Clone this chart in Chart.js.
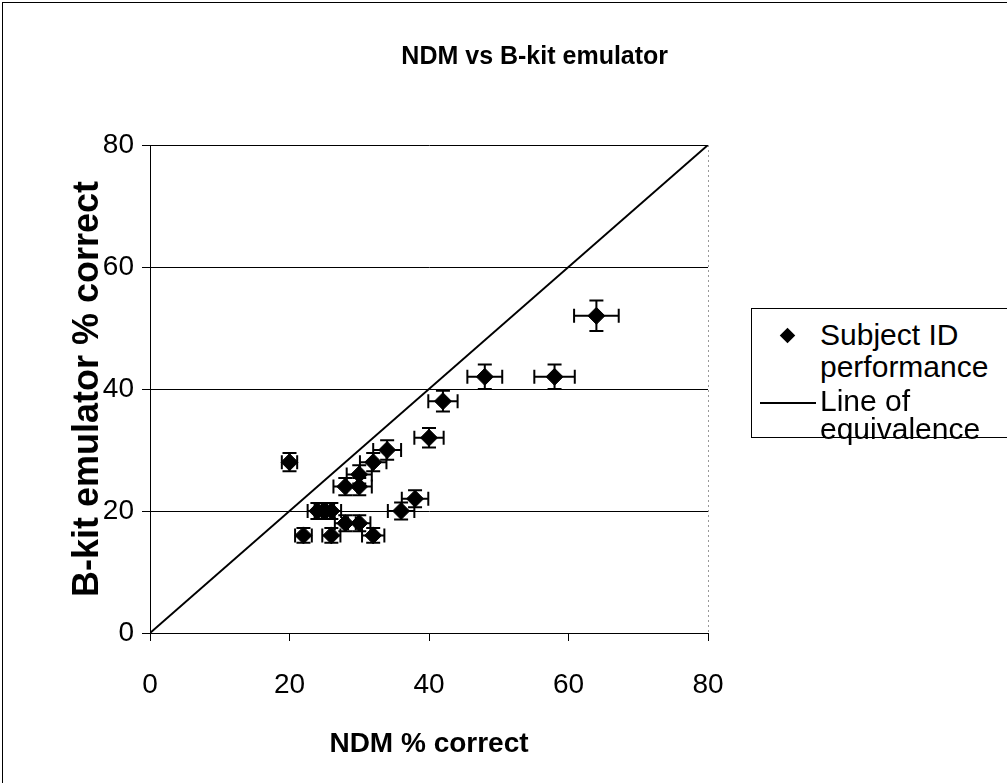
<!DOCTYPE html>
<html>
<head>
<meta charset="utf-8">
<script src="https://cdn.jsdelivr.net/npm/chart.js@4/dist/chart.umd.min.js"></script>
<style>
  html, body { margin: 0; padding: 0; background: #fff; }
  #wrap { position: relative; width: 1007px; height: 783px; }
  #frame { position: absolute; left: 2px; top: 2px; width: 1010px; height: 790px; border: 1px solid #000; box-sizing: border-box; pointer-events: none; }
  #legend { position: absolute; left: 751px; top: 308px; width: 260px; height: 130px; border: 1px solid #000; border-right: none; box-sizing: border-box; background: #fff;
            font-family: "Liberation Sans", Arial, sans-serif; font-size: 30px; line-height: 32px; color: #000; white-space: nowrap; }
  .item { position: absolute; left: 68px; }
  .mk { position: absolute; }
</style>
</head>
<body>
<div id="wrap">
  <canvas id="c" width="1007" height="783"></canvas>
  <div id="frame"></div>
  <div id="legend">
    <div class="mk" style="left:30px;top:21px;width:11px;height:11px;background:#000;transform:rotate(45deg);"></div>
    <div class="item" style="top:10px;">Subject ID<br>performance</div>
    <div class="mk" style="left:8px;top:93px;width:56px;height:2px;background:#000;"></div>
    <div class="item" style="top:78px;line-height:28px;">Line of<br>equivalence</div>
  </div>
</div>
<script>
// ---- data ----
const ndmCorrect   = [64, 48, 58, 42, 40, 34, 32, 30, 30, 28, 20, 38, 36, 24, 25, 26, 28, 30, 22, 26, 32];
const bkitCorrect  = [52, 42, 42, 38, 32, 30, 28, 26, 24, 24, 28, 22, 20, 20, 20, 20, 18, 18, 16, 16, 16];
const ndmError     = [3.2, 2.5, 2.9, 2.1, 2.1, 2.0, 1.9, 1.8, 1.8, 1.7, 1.1, 1.9, 1.9, 1.4, 1.4, 1.4, 1.5, 1.6, 1.2, 1.3, 1.6];
const bkitError    = [2.5, 2.0, 2.0, 1.7, 1.6, 1.6, 1.5, 1.5, 1.4, 1.4, 1.5, 1.4, 1.4, 1.3, 1.3, 1.3, 1.3, 1.3, 1.2, 1.2, 1.2];
const equivalenceX = [0, 80];
const equivalenceY = [0, 80];
const axisTicks    = [0, 20, 40, 60, 80];

const FONT = '"Liberation Sans", Arial, sans-serif';

const subjectPoints = ndmCorrect.map((x, i) => ({x: x, y: bkitCorrect[i]}));
const equivalencePoints = equivalenceX.map((x, i) => ({x: x, y: equivalenceY[i]}));

const errorBarPlugin = {
  id: 'errorBars',
  afterDatasetsDraw(chart) {
    const xs = chart.scales.x, ys = chart.scales.y, ctx = chart.ctx;
    const cap = 7;
    ctx.save();
    ctx.strokeStyle = '#000';
    ctx.lineWidth = 2;
    ndmCorrect.forEach((xv, i) => {
      const yv = bkitCorrect[i];
      const px = xs.getPixelForValue(xv), py = ys.getPixelForValue(yv);
      const x1 = xs.getPixelForValue(xv - ndmError[i]), x2 = xs.getPixelForValue(xv + ndmError[i]);
      const y1 = ys.getPixelForValue(yv - bkitError[i]), y2 = ys.getPixelForValue(yv + bkitError[i]);
      ctx.beginPath();
      ctx.moveTo(x1, py); ctx.lineTo(x2, py);
      ctx.moveTo(x1, py - cap); ctx.lineTo(x1, py + cap);
      ctx.moveTo(x2, py - cap); ctx.lineTo(x2, py + cap);
      ctx.moveTo(px, y1); ctx.lineTo(px, y2);
      ctx.moveTo(px - cap, y1); ctx.lineTo(px + cap, y1);
      ctx.moveTo(px - cap, y2); ctx.lineTo(px + cap, y2);
      ctx.stroke();
    });
    ctx.restore();
  }
};

const titlePlugin = {
  id: 'centredTitle',
  afterDraw(chart) {
    const ctx = chart.ctx;
    ctx.save();
    ctx.font = 'bold 25px ' + FONT;
    ctx.fillStyle = '#000';
    ctx.textAlign = 'center';
    ctx.textBaseline = 'middle';
    ctx.fillText('NDM vs B-kit emulator', chart.width * 0.531, 57);
    ctx.restore();
  }
};

const rightBorderPlugin = {
  id: 'rightBorder',
  beforeDatasetsDraw(chart) {
    const a = chart.chartArea, ctx = chart.ctx;
    ctx.save();
    ctx.strokeStyle = '#999';
    ctx.lineWidth = 1;
    ctx.setLineDash([2, 3]);
    ctx.beginPath();
    ctx.moveTo(a.right + 0.5, a.top);
    ctx.lineTo(a.right + 0.5, a.bottom);
    ctx.stroke();
    ctx.restore();
  }
};

new Chart(document.getElementById('c'), {
  type: 'scatter',
  data: {
    datasets: [
      {
        label: 'Line of equivalence',
        data: equivalencePoints,
        showLine: true,
        borderColor: '#000',
        borderWidth: 2,
        pointRadius: 0,
        fill: false
      },
      {
        label: 'Subject ID performance',
        data: subjectPoints,
        pointStyle: 'rectRot',
        pointRadius: 8.5,
        pointHoverRadius: 8.5,
        backgroundColor: '#000',
        borderColor: '#000',
        borderWidth: 1
      }
    ]
  },
  options: {
    responsive: false,
    animation: false,
    events: [],
    layout: { padding: { left: 4, right: 299, top: 145, bottom: 0 } },
    plugins: {
      legend: { display: false },
      title: { display: false },
      tooltip: { enabled: false }
    },
    scales: {
      x: {
        type: 'linear',
        min: 0, max: 80,
        afterBuildTicks: (s) => { s.ticks = axisTicks.map(v => ({value: v})); },
        afterFit: (s) => { s.height = 150; },
        ticks: { font: { family: FONT, size: 28 }, color: '#000', padding: 27 },
        grid: { drawOnChartArea: false, drawTicks: true, tickLength: 8, color: '#000' },
        border: { display: true, color: '#000', width: 1 },
        title: { display: true, text: 'NDM % correct', color: '#000',
                 font: { family: FONT, size: 28, weight: 'bold' }, padding: { top: 0, bottom: 22 } }
      },
      y: {
        type: 'linear',
        min: 0, max: 80,
        afterBuildTicks: (s) => { s.ticks = axisTicks.map(v => ({value: v})); },
        afterFit: (s) => { s.width = 146; },
        ticks: { font: { family: FONT, size: 28 }, color: '#000', padding: 8 },
        grid: { drawOnChartArea: true, drawTicks: true, tickLength: 8, color: '#000', lineWidth: 1 },
        border: { display: true, color: '#000', width: 1 },
        title: { display: true, text: 'B-kit emulator % correct', color: '#000',
                 font: { family: FONT, size: 36, weight: 'bold' }, padding: { top: 62, bottom: 0 } }
      }
    }
  },
  plugins: [rightBorderPlugin, errorBarPlugin, titlePlugin]
});
</script>
</body>
</html>
